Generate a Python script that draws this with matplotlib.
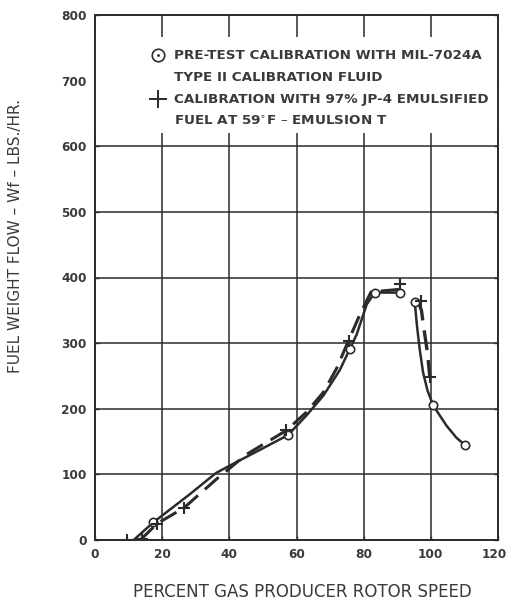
import matplotlib.pyplot as plt
import matplotlib.transforms as mtransforms
from matplotlib.patches import Rectangle

# pre-test calibration (circles, solid curve)
pre_x = [17.4, 57.5, 75.8, 83.3, 90.7, 95.2, 100.7, 110.1]
pre_y = [27, 160, 291, 377, 377, 363, 205, 145]
pre_curve1_x = [11.5, 17.4, 28.3, 36, 40, 48.6, 57.5, 63, 68, 72.9, 77.9, 80.9, 83.3, 90.7]
pre_curve1_y = [0, 27, 70, 102, 113, 136, 160, 190, 220, 259, 313, 359, 377, 377]
pre_curve2_x = [95.2, 95.9, 96.7, 97.7, 99.0, 100.7, 104.7, 107.6, 110.1]
pre_curve2_y = [363, 325, 290, 255, 228, 205, 174, 156, 145]

# emulsion calibration (plus, dashed curve)
emu_x = [9.4, 14.0, 18.5, 26.5, 57.0, 75.5, 90.8, 97.2, 99.7]
emu_y = [0, 1, 25, 49, 167, 304, 390, 364, 248]
emu_curve1_x = [13.5, 18.5, 26.5, 36, 45, 57, 63, 68, 72, 75.5, 79, 82.2, 90.8]
emu_curve1_y = [0, 25, 49, 92, 130, 167, 195, 225, 262, 304, 345, 378, 382]
emu_curve2_x = [96.2, 97.2, 98.0, 99.0, 99.7]
emu_curve2_y = [364, 350, 320, 285, 248]

ink = '#2b2b2b'
txt = '#3a3a3a'

fig = plt.figure(figsize=(5.09, 6.04), dpi=100)
ax = fig.add_axes([95/509, 64/604, 403/509, 525/604])

ax.set_xlim(0, 120)
ax.set_ylim(0, 800)
ax.set_xticks(range(0, 121, 20))
ax.set_yticks(range(0, 801, 100))
ax.tick_params(direction='in', length=3, width=1, color=ink, labelcolor=txt,
               labelsize=8.7, right=True, pad=6)
for lab in ax.get_xticklabels() + ax.get_yticklabels():
    lab.set_fontweight('bold')
# keep the last x label inside the figure
last = ax.get_xticklabels()[-1]
last.set_transform(last.get_transform() + mtransforms.ScaledTranslation(-4/100, 0, fig.dpi_scale_trans))
ax.grid(True, color=ink, linewidth=1.1)
for s in ax.spines.values():
    s.set_color(ink)
    s.set_linewidth(1.4)

# white block behind the legend text
ax.add_patch(Rectangle((0, 620), 120, 146, facecolor='white', edgecolor='none', zorder=1.8))

ax.plot(pre_curve1_x, pre_curve1_y, color=ink, lw=1.8, zorder=3)
ax.plot(pre_curve2_x, pre_curve2_y, color=ink, lw=1.8, zorder=3)
ax.plot(emu_curve1_x, emu_curve1_y, color=ink, lw=2.2, ls=(0, (6, 3)), zorder=3)
ax.plot(emu_curve2_x, emu_curve2_y, color=ink, lw=2.4, ls=(0, (6, 3)), zorder=3)
ax.plot(pre_x, pre_y, 'o', mfc='white', mec=ink, mew=1.2, ms=6, zorder=4)
ax.plot(emu_x, emu_y, '+', color=ink, mew=1.5, ms=8, zorder=4)

# legend
ax.plot([18.7], [739], 'o', mfc='white', mec=ink, mew=1.2, ms=9, zorder=4)
ax.plot([18.7], [739], '.', color=ink, ms=2, zorder=5)
ax.plot([18.7], [672], '+', color=ink, mew=1.4, ms=13, zorder=4)
lines = ['PRE-TEST CALIBRATION WITH MIL-7024A',
         'TYPE II CALIBRATION FLUID',
         'CALIBRATION WITH 97% JP-4 EMULSIFIED',
         'FUEL AT 59$^{\\circ}$F \u2013 EMULSION T']
ys = [739, 705, 672, 638]
for s, yy in zip(lines, ys):
    ax.text(23.5, yy, s, fontsize=9.7, color=txt, fontweight='bold',
            va='center', ha='left', zorder=5)

fig.text(16/509, 1 - 236/604, 'FUEL WEIGHT FLOW \u2013 Wf \u2013 LBS./HR.',
         rotation=90, ha='center', va='center', fontsize=11, color=txt)
fig.text(302/509, 1 - 592/604, 'PERCENT GAS PRODUCER ROTOR SPEED',
         ha='center', va='center', fontsize=12, color=txt)

fig.savefig('out.png', dpi=100)
